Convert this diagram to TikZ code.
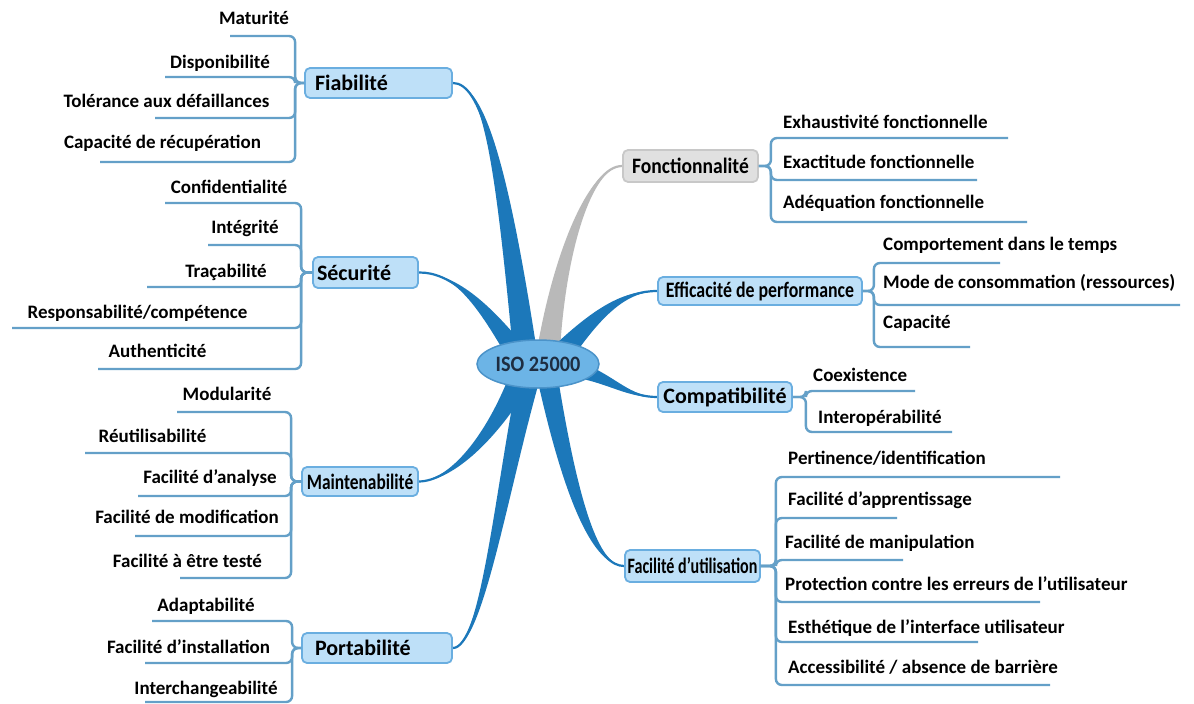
\documentclass[tikz,border=0pt]{standalone}
\usepackage{fontspec}
\setmainfont{Carlito}
\usepackage{graphicx}
\usetikzlibrary{shapes.geometric}
\pgfdeclarelayer{bg}
\pgfsetlayers{bg,main}
\definecolor{branch}{RGB}{28,120,186}
\definecolor{graybr}{RGB}{185,185,185}
\definecolor{leafcol}{RGB}{100,160,200}
\definecolor{catfill}{RGB}{190,224,248}
\definecolor{catdraw}{RGB}{106,174,224}
\definecolor{grayfill}{RGB}{224,224,224}
\definecolor{graydraw}{RGB}{200,200,200}
\definecolor{isofill}{RGB}{108,180,230}
\definecolor{isodraw}{RGB}{75,147,201}
\definecolor{isotext}{RGB}{30,45,65}
\begin{document}
\begin{tikzpicture}[x=1pt,y=-1pt,
  leaf/.style={font=\fontsize{19}{22}\selectfont\bfseries, inner sep=0pt},
  leafl/.style={leaf, anchor=base},
  leafr/.style={leaf, anchor=base west},
  cat/.style={draw=catdraw, fill=catfill, rounded corners=5pt, line width=1.8pt, inner ysep=0pt, font=\fontsize{22}{24}\selectfont\bfseries},
  graycat/.style={cat, draw=graydraw, fill=grayfill},
  leafline/.style={draw=leafcol, line width=2.4pt, rounded corners=6pt},
  brline/.style={draw=branch, line width=2.2pt},
  grline/.style={draw=graybr, line width=2.2pt},
]
\useasboundingbox (0,0) rectangle (1194,704);

% central node
\node[ellipse, draw=isodraw, fill=isofill, line width=1.5pt, minimum width=122pt, minimum height=48pt, inner sep=0pt, font=\fontsize{22}{24}\selectfont\bfseries, text=isotext] (iso) at (538,364) {\scalebox{0.92}[1]{ISO 25000}};

% category nodes
\node[cat, minimum width=147pt, minimum height=30pt, text width=127pt, inner xsep=10pt, align=left] (fia) at (378.5,83) {Fiabilité};
\node[cat, minimum width=105pt, minimum height=31pt, text width=97pt, inner xsep=4pt, align=left] (sec) at (365.5,272.5) {Sécurité};
\node[cat, minimum width=116pt, minimum height=29pt, inner xsep=0pt] (mai) at (360,481.5) {\scalebox{0.79}[1]{Maintenabilité}};
\node[cat, minimum width=150pt, minimum height=30pt, text width=124pt, inner xsep=13pt, align=left] (por) at (377,648) {Portabilité};
\node[graycat, minimum width=135pt, minimum height=32pt, inner xsep=0pt] (fon) at (690.5,166) {\scalebox{0.89}[1]{Fonctionnalité}};
\node[cat, minimum width=204pt, minimum height=28pt, inner xsep=0pt] (eff) at (760,291) {\scalebox{0.81}[1]{Efficacité de performance}};
\node[cat, minimum width=134pt, minimum height=30pt, inner xsep=0pt] (com) at (725,397) {Compatibilité};
\node[cat, minimum width=135pt, minimum height=32pt, inner xsep=0pt] (fac) at (692.5,566) {\scalebox{0.73}[1]{Facilité d’utilisation}};

% base coordinates of the branches (inside the ellipse)
\coordinate (fiaA) at (513,352); \coordinate (fiaB) at (537,352); \coordinate (fiaM) at (525,352);
\coordinate (fonA) at (537,350); \coordinate (fonB) at (560,350); \coordinate (fonM) at (548,350);
\coordinate (secA) at (507,357); \coordinate (secB) at (524,346); \coordinate (secM) at (515,352);
\coordinate (effA) at (557,343); \coordinate (effB) at (573,357); \coordinate (effM) at (565,350);
\coordinate (comA) at (587,365); \coordinate (comB) at (583,379); \coordinate (comM) at (585,372);
\coordinate (facA) at (538,382); \coordinate (facB) at (558,378); \coordinate (facM) at (548,380);
\coordinate (maiA) at (510,374); \coordinate (maiB) at (530,384); \coordinate (maiM) at (520,378);
\coordinate (porA) at (517,380); \coordinate (porB) at (539,382); \coordinate (porM) at (528,380);

% background and branches (behind the nodes)
\begin{pgfonlayer}{bg}
\fill[white] (0,0) rectangle (1194,704);
\fill[branch] (fia.east) .. controls (482,82) and (494,150) .. (fiaA) -- (fiaB) .. controls (506,150) and (482,84) .. (fia.east) -- cycle;
\draw[brline] (fia.east) .. controls (480,83) and (500,150) .. (fiaM);
\fill[graybr] (fon.west) .. controls (590,165) and (554,250) .. (fonA) -- (fonB) .. controls (566,250) and (592,167) .. (fon.west) -- cycle;
\draw[grline] (fon.west) .. controls (590,166) and (560,250) .. (fonM);
\fill[branch] (sec.east) .. controls (452,271) and (476,303) .. (secA) -- (secB) .. controls (484,297) and (452,273) .. (sec.east) -- cycle;
\draw[brline] (sec.east) .. controls (450,272) and (480,300) .. (secM);
\fill[branch] (eff.west) .. controls (625,290) and (597,306) .. (effA) -- (effB) .. controls (603,314) and (627,292) .. (eff.west) -- cycle;
\draw[brline] (eff.west) .. controls (625,291) and (600,310) .. (effM);
\fill[branch] (com.west) .. controls (630,396) and (617,378) .. (comA) -- (comB) .. controls (613,386) and (630,398) .. (com.west) -- cycle;
\draw[brline] (com.west) .. controls (630,397) and (615,382) .. (comM);
\fill[branch] (fac.west) .. controls (598,566) and (569,520) .. (facA) -- (facB) .. controls (581,520) and (602,566) .. (fac.west) -- cycle;
\draw[brline] (fac.west) .. controls (600,566) and (575,520) .. (facM);
\fill[branch] (mai.east) .. controls (450,480) and (486,436) .. (maiA) -- (maiB) .. controls (494,444) and (450,482) .. (mai.east) -- cycle;
\draw[brline] (mai.east) .. controls (450,481) and (490,440) .. (maiM);
\fill[branch] (por.east) .. controls (480,647) and (494,500) .. (porA) -- (porB) .. controls (506,500) and (482,649) .. (por.east) -- cycle;
\draw[brline] (por.east) .. controls (480,648) and (500,500) .. (porM);
\end{pgfonlayer}

% ---------- Fiabilité leaves
\node[leafl] (mat) at (254,24) {Maturité};
\node[leafl] (dis) at (220,68) {Disponibilité};
\node[leafl] (tol) at (166.5,107) {Tolérance aux défaillances};
\node[leafl] (cap) at (162.5,148) {Capacité de récupération};
\coordinate (umat) at (230,36); \coordinate (udis) at (165,77);
\coordinate (utol) at (155,118); \coordinate (ucap) at (100,162);
\foreach \u in {umat,udis,utol,ucap}
  \draw[leafline] (fia.west) -- ++(-9,0) |- (\u);

% ---------- Sécurité leaves
\node[leafl] (con) at (229,193) {Confidentialité};
\node[leafl] (itg) at (245,233) {Intégrité};
\node[leafl] (tra) at (226,277) {Traçabilité};
\node[leafl] (res) at (137.5,318) {Responsabilité/compétence};
\node[leafl] (aut) at (157.5,357) {Authenticité};
\coordinate (ucon) at (165,203); \coordinate (uitg) at (208,245);
\coordinate (utra) at (147,287); \coordinate (ures) at (12,328);
\coordinate (uaut) at (98,369);
\foreach \u in {ucon,uitg,utra,ures,uaut}
  \draw[leafline] (sec.west) -- ++(-11,0) |- (\u);

% ---------- Maintenabilité leaves
\node[leafl] (mdl) at (227,400) {Modularité};
\node[leafl] (reu) at (152.5,442) {Réutilisabilité};
\node[leafl] (ana) at (210,483) {Facilité d’analyse};
\node[leafl] (mdf) at (187,523) {Facilité de modification};
\node[leafl] (tes) at (187.5,567) {Facilité à être testé};
\coordinate (umdl) at (177,412); \coordinate (ureu) at (85,453);
\coordinate (uana) at (138,496); \coordinate (umdf) at (135,536);
\coordinate (utes) at (180,578);
\foreach \u in {umdl,ureu,uana,umdf,utes}
  \draw[leafline] (mai.west) -- ++(-10,0) |- (\u);

% ---------- Portabilité leaves
\node[leafl] (ada) at (206,611) {Adaptabilité};
\node[leafl] (ins) at (188.5,653) {Facilité d’installation};
\node[leafl] (ich) at (206,694) {Interchangeabilité};
\coordinate (uada) at (152,621); \coordinate (uins) at (145,663);
\coordinate (uich) at (145,702);
\foreach \u in {uada,uins,uich}
  \draw[leafline] (por.west) -- ++(-9,0) |- (\u);

% ---------- Fonctionnalité leaves
\node[leafr] (exh) at (783,128) {Exhaustivité fonctionnelle};
\node[leafr] (exa) at (783,168) {Exactitude fonctionnelle};
\node[leafr] (ade) at (783,208) {Adéquation fonctionnelle};
\coordinate (uexh) at (1008,138); \coordinate (uexa) at (977,180);
\coordinate (uade) at (1027,222);
\foreach \u in {uexh,uexa,uade}
  \draw[leafline] (fon.east) -- ++(12,0) |- (\u);

% ---------- Efficacité leaves
\node[leafr] (cmp) at (883,250) {Comportement dans le temps};
\node[leafr] (mde) at (883,288) {Mode de consommation (ressources)};
\node[leafr] (cpa) at (883,328) {Capacité};
\coordinate (ucmp) at (1000,263); \coordinate (umde) at (1180,305);
\coordinate (ucpa) at (970,347);
\foreach \u in {ucmp,umde,ucpa}
  \draw[leafline] (eff.east) -- ++(11,0) |- (\u);

% ---------- Compatibilité leaves
\node[leafr] (coe) at (813,381) {Coexistence};
\node[leafr] (iop) at (818,423) {Interopérabilité};
\coordinate (ucoe) at (915,391); \coordinate (uiop) at (952,432);
\foreach \u in {ucoe,uiop}
  \draw[leafline] (com.east) -- ++(13,0) |- (\u);

% ---------- Facilité d'utilisation leaves
\node[leafr] (per) at (788,464) {Pertinence/identification};
\node[leafr] (app) at (788,505) {Facilité d’apprentissage};
\node[leafr] (man) at (785,548) {Facilité de manipulation};
\node[leafr] (pro) at (785,590) {Protection contre les erreurs de l’utilisateur};
\node[leafr] (est) at (788,633) {Esthétique de l’interface utilisateur};
\node[leafr] (acc) at (788,673) {Accessibilité / absence de barrière};
\coordinate (uper) at (1060,477); \coordinate (uapp) at (897,518);
\coordinate (uman) at (903,560); \coordinate (upro) at (1040,602);
\coordinate (uest) at (978,642); \coordinate (uacc) at (1050,685);
\foreach \u in {uper,uapp,uman,upro,uest,uacc}
  \draw[leafline] (fac.east) -- ++(15,0) |- (\u);
\end{tikzpicture}
\end{document}
